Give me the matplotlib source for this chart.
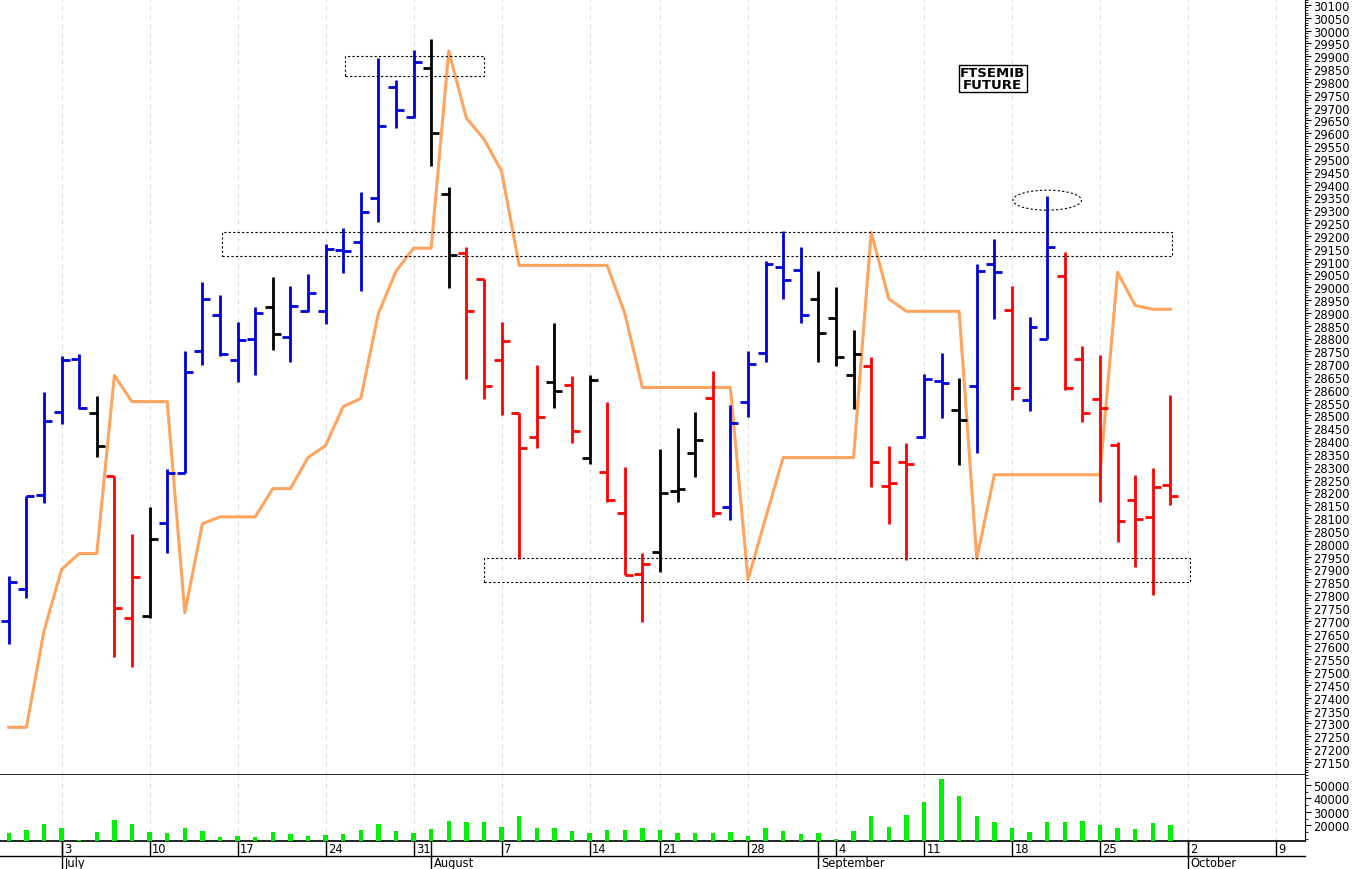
import matplotlib.pyplot as plt
from matplotlib.lines import Line2D
from matplotlib.patches import Rectangle, Ellipse
from matplotlib.ticker import MultipleLocator, FixedLocator
import numpy as np

# daily bars, 28 Jun 2023 .. 29 Sep 2023 (trading-day index)
opens = [27700, 27825, 28190, 28515, 28720, 28508, 28265, 27710, 27720, 28080,
         28275, 28750, 28890, 28715, 28800, 28921, 28804, 28906, 28906, 29144,
         29175, 29347, 29780, 29663, 29854, 29362, 29132, 29031, 28718, 28508,
         28418, 28632, 28620, 28336, 28281, 28121, 27883, 27969, 28207, 28355,
         28570, 28145, 28554, 28742, 29077, 29066, 28953, 28878, 28656, 28691,
         28226, 28320, 28418, 28636, 28523, 28613, 29089, 28910, 28562, 28800,
         29043, 28722, 28566, 28386, 28172, 28105, 28230]
highs = [27875, 28188, 28590, 28730, 28740, 28575, 28265, 28040, 28145, 28290,
         28750, 29020, 28970, 28863, 28921, 29038, 29003, 29050, 29167, 29230,
         29370, 29893, 29807, 29924, 29967, 29390, 29155, 29031, 28863, 28508,
         28695, 28859, 28652, 28656, 28554, 28301, 27965, 28371, 28453, 28515,
         28675, 28539, 28753, 29101, 29218, 29155, 29062, 29000, 28832, 28726,
         28383, 28394, 28663, 28742, 28648, 29089, 29187, 29003, 28882, 29355,
         29136, 28769, 28734, 28398, 28269, 28297, 28578]
lows = [27610, 27790, 28160, 28465, 28525, 28340, 27560, 27520, 27710, 27965,
        28275, 28695, 28730, 28632, 28656, 28754, 28710, 28902, 28855, 29054,
        28984, 29253, 29620, 29659, 29472, 28995, 28644, 28566, 28503, 27942,
        28375, 28531, 28394, 28312, 28164, 27879, 27696, 27890, 28164, 28262,
        28105, 28094, 28496, 28707, 28953, 28859, 28707, 28691, 28527, 28223,
        28078, 27938, 28414, 28492, 28308, 28355, 28875, 28562, 28519, 28800,
        28601, 28476, 28164, 28008, 27910, 27801, 28152]
closes = [27850, 28185, 28480, 28715, 28530, 28380, 27750, 27870, 28020, 28275,
          28670, 28955, 28740, 28793, 28898, 28816, 28925, 28976, 29148, 29140,
          29292, 29628, 29690, 29878, 29600, 29124, 28906, 28613, 28789, 28375,
          28496, 28597, 28441, 28640, 28172, 27879, 27922, 28199, 28215, 28406,
          28121, 28469, 28699, 29089, 29027, 28890, 28820, 28726, 28738, 28320,
          28238, 28312, 28644, 28628, 28484, 29062, 29058, 28609, 28843, 29155,
          28609, 28511, 28530, 28090, 28098, 28223, 28188]
# u = up (blue), d = down (red), n = neutral (black)
bar_color = (["u"] * 5 + ["n"] + ["d"] * 2 + ["n"] + ["u"] * 6 + ["n"] + ["u"] * 8
             + ["n"] * 2 + ["d"] * 5 + ["n"] + ["d"] + ["n"] + ["d"] * 3 + ["n"] * 3
             + ["d"] + ["u"] * 5 + ["n"] * 3 + ["d"] * 3 + ["u"] * 2 + ["n"]
             + ["u"] * 2 + ["d"] + ["u"] * 2 + ["d"] * 7)
indicator = [27285, 27285, 27660, 27900, 27962, 27962, 28656, 28554, 28554, 28554,
             27731, 28078, 28105, 28105, 28105, 28215, 28215, 28336, 28383, 28535,
             28566, 28898, 29062, 29152, 29152, 29920, 29659, 29577, 29452, 29085,
             29085, 29085, 29085, 29085, 29085, 28898, 28609, 28609, 28609, 28609,
             28609, 28609, 27860, 28100, 28336, 28336, 28336, 28336, 28336, 29214,
             28955, 28906, 28906, 28906, 28906, 27942, 28269, 28269, 28269, 28269,
             28269, 28269, 28269, 29058, 28929, 28914, 28914]
volume = [14659, 16695, 21268, 18217, 9060, 15166, 24318, 20760, 14913, 14659,
          18217, 15675, 11605, 11860, 11605, 15166, 13640, 12114, 13130, 13640,
          16695, 20760, 15675, 14659, 17200, 23047, 22284, 22284, 19234, 26861,
          18471, 17962, 16186, 14150, 16695, 16695, 18471, 16500, 14150, 14150,
          14659, 15166, 12114, 18217, 16186, 13640, 14659, 10080, 15675, 26861,
          18726, 27624, 37290, 54335, 42127, 26861, 22284, 18471, 15166, 22284,
          22284, 23047, 20000, 18471, 17200, 21520, 20250]
monday_idx = [3, 8, 13, 18, 23, 28, 33, 37, 42, 47, 52, 57, 62, 67, 72]
monday_lbl = ["3", "10", "17", "24", "31", "7", "14", "21", "28", "4", "11", "18", "25", "2", "9"]
month_idx = [3, 24, 46, 67]
month_lbl = ["July", "August", "September", "October"]

colmap = {"u": "#0000d8", "d": "#ff0000", "n": "#000000"}
W, H = 1352, 870
fig = plt.figure(figsize=(W / 100, H / 100), dpi=100)
xl = (-0.5, 73.65)
ax = fig.add_axes([0, 94 / H, 1305 / W, 776 / H])
av = fig.add_axes([0, 28 / H, 1305 / W, 66 / H])

for a in (ax, av):
    a.set_xlim(*xl)
    for m in monday_idx:
        a.axvline(m, color="#dddddd", lw=0.8, ls=(0, (4, 4)), zorder=0)
    a.spines["left"].set_visible(False)
    a.spines["top"].set_visible(False)
    a.spines["bottom"].set_color("black")
    a.spines["bottom"].set_linewidth(1.2)
    a.yaxis.tick_right()
    a.set_xticks([])
    a.tick_params(axis="y", labelsize=8.3, length=4, direction="out", pad=2)
    a.tick_params(axis="y", which="minor", length=2)

# price bars
for i in range(len(opens)):
    c = colmap[bar_color[i]]
    ax.plot([i, i], [lows[i], highs[i]], color=c, lw=2, solid_capstyle="butt", zorder=3)
    ax.plot([i - 0.45, i], [opens[i], opens[i]], color=c, lw=2, solid_capstyle="butt", zorder=3)
    ax.plot([i, i + 0.45], [closes[i], closes[i]], color=c, lw=2, solid_capstyle="butt", zorder=3)
ax.plot(range(len(indicator)), indicator, color="#ffa45e", lw=2.2, zorder=2)

ax.set_ylim(27099, 30123)
ax.yaxis.set_major_locator(FixedLocator(np.arange(27150, 30101, 50)))
ax.yaxis.set_minor_locator(MultipleLocator(10))

# annotations
box = dict(fill=False, ec="black", lw=0.8, ls=(0, (2, 2)), zorder=4)
ax.add_patch(Rectangle((19.1, 29823), 7.9, 78, **box))
ax.add_patch(Rectangle((12.1, 29120), 54.0, 94, **box))
ax.add_patch(Rectangle((27.0, 27852), 40.1, 94, **box))
ax.add_patch(Ellipse((59.0, 29339), 3.9, 78, **box))
ax.text(55.9, 29813, "FTSEMIB\nFUTURE", ha="center", va="center", fontsize=9.5,
        fontweight="bold", linespacing=0.9,
        bbox=dict(boxstyle="square,pad=0.1", fc="white", ec="black", lw=1))

# volume
av.bar(range(len(volume)), volume, width=0.25, color="#00ee00", zorder=3)
av.set_ylim(8500, 57400)
av.yaxis.set_major_locator(FixedLocator([20000, 30000, 40000, 50000]))
av.yaxis.set_minor_locator(MultipleLocator(5000))
av.tick_params(axis="y", labelsize=8.3)

# date rows
tr = av.get_xaxis_transform()
for m, lbl in zip(monday_idx, monday_lbl):
    av.add_line(Line2D([m, m], [-0.22, 0], transform=tr, color="black", lw=1, clip_on=False))
    av.text(m + 0.15, -0.11, lbl, transform=tr, ha="left", va="center", fontsize=8.3, clip_on=False)
for m, lbl in zip(month_idx, month_lbl):
    av.add_line(Line2D([m, m], [-0.43, 0], transform=tr, color="black", lw=1, clip_on=False))
    av.text(m + 0.15, -0.33, lbl, transform=tr, ha="left", va="center", fontsize=8.3, clip_on=False)
av.add_line(Line2D([xl[0], xl[1]], [-0.22, -0.22], transform=tr, color="black", lw=1, clip_on=False))

fig.savefig("out.png", dpi=100)
